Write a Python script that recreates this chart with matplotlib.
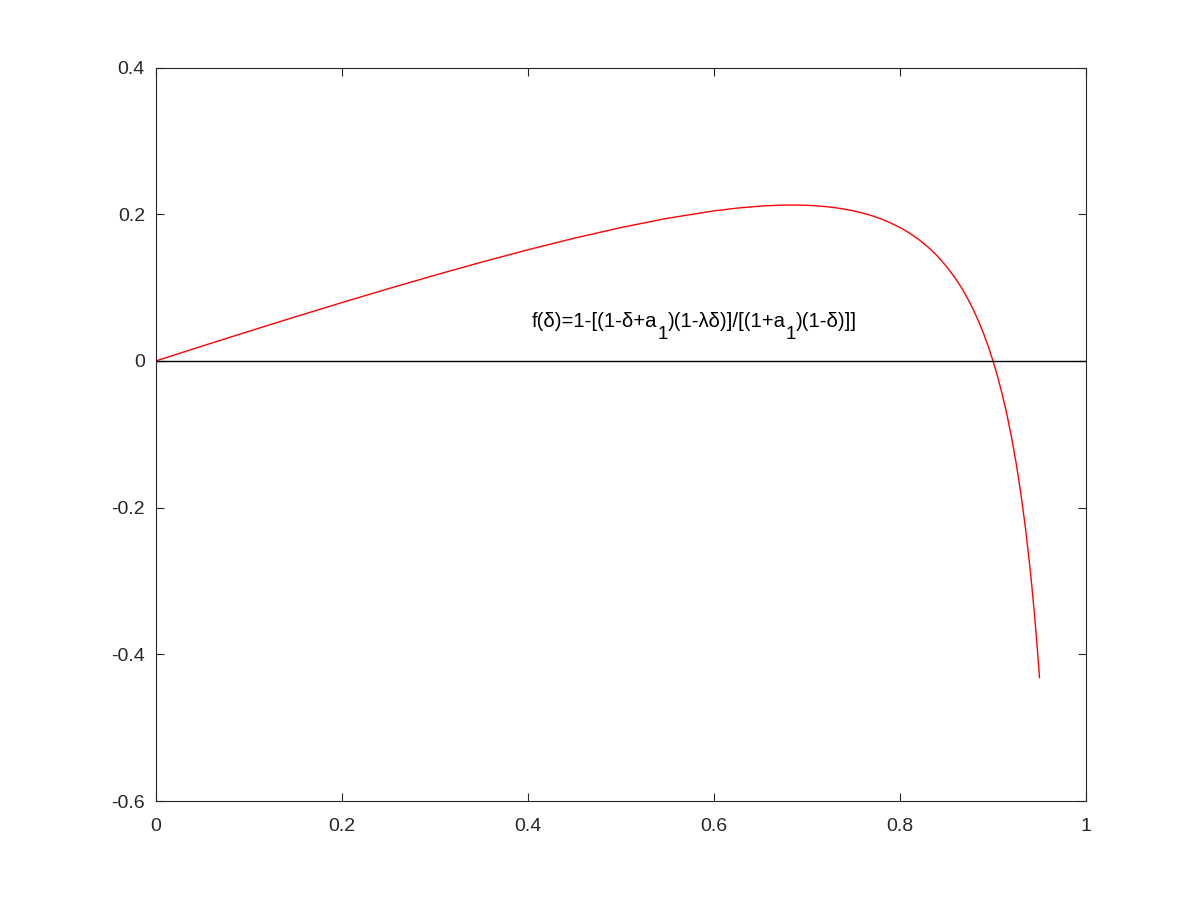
import matplotlib
matplotlib.use("Agg")
import matplotlib.pyplot as plt

# values
delta = [0.0, 0.05, 0.1, 0.15, 0.2, 0.25, 0.3, 0.35, 0.4, 0.45, 0.5, 0.55, 0.6,
         0.625, 0.65, 0.67, 0.68, 0.69, 0.7, 0.71, 0.72, 0.73, 0.74, 0.75, 0.76,
         0.77, 0.78, 0.79, 0.8, 0.81, 0.82, 0.83, 0.84, 0.85, 0.86, 0.865, 0.87,
         0.875, 0.88, 0.885, 0.89, 0.895, 0.9, 0.905, 0.91, 0.915, 0.92, 0.925,
         0.93, 0.935, 0.94, 0.9425, 0.945, 0.9475, 0.95]
f_vals = [0.0, 0.02033, 0.0404, 0.06016, 0.07955, 0.09848, 0.11688, 0.13462,
          0.15152, 0.16736, 0.18182, 0.19444, 0.20455, 0.20833, 0.21104, 0.21226,
          0.2125, 0.21246, 0.21212, 0.21144, 0.21039, 0.20892, 0.20699, 0.20455,
          0.20152, 0.19783, 0.19339, 0.1881, 0.18182, 0.1744, 0.16566, 0.15535,
          0.14318, 0.12879, 0.11169, 0.10194, 0.09126, 0.07955, 0.06667, 0.05247,
          0.03678, 0.01937, 0.0, -0.02165, -0.04596, -0.0734, -0.10455, -0.14015,
          -0.18117, -0.22885, -0.28485, -0.31665, -0.35145, -0.38966, -0.43182]
xticks = [0, 0.2, 0.4, 0.6, 0.8, 1]
xticklabels = ["0", "0.2", "0.4", "0.6", "0.8", "1"]
yticks = [-0.6, -0.4, -0.2, 0, 0.2, 0.4]
yticklabels = ["-0.6", "-0.4", "-0.2", "0", "0.2", "0.4"]
# label pieces: (text, is_subscript)
label_pieces = [("f(δ)=1-[(1-δ+a", False), ("1", True),
                (")(1-λδ)]/[(1+a", False), ("1", True), (")(1-δ)]]", False)]

plt.rcParams['font.family'] = ['Liberation Sans', 'DejaVu Sans']

fig = plt.figure(figsize=(12, 9), dpi=100)
ax = fig.add_axes([0.13, 0.11, 0.775, 0.815])
ax.plot(delta, f_vals, color='red', lw=1.0)
ax.axhline(0, color='black', lw=1.0)

main_fs, sub_fs, drop = 14.7, 13.5, 9
prev = ax.text(0.4043, 0.0466, label_pieces[0][0], fontsize=main_fs,
               ha='left', va='baseline')
prev_sub = False
for txt, is_sub in label_pieces[1:]:
    if is_sub:
        dy = -drop
    elif prev_sub:
        dy = drop
    else:
        dy = 0
    prev = ax.annotate(txt, xy=(1, 0), xycoords=prev, xytext=(0, dy),
                       textcoords='offset points', ha='left', va='bottom',
                       fontsize=sub_fs if is_sub else main_fs)
    prev_sub = is_sub

ax.set_xlim(0, 1)
ax.set_ylim(-0.6, 0.4)
ax.set_xticks(xticks)
ax.set_xticklabels(xticklabels)
ax.set_yticks(yticks)
ax.set_yticklabels(yticklabels)
ax.tick_params(direction='in', length=6, width=0.8, top=True, right=True,
               labelsize=14, colors='#262626')
ax.tick_params(axis='x', pad=12)
ax.tick_params(axis='y', pad=8)
for s in ax.spines.values():
    s.set_linewidth(0.8)
    s.set_color('#262626')

fig.savefig("out.png", dpi=100)
